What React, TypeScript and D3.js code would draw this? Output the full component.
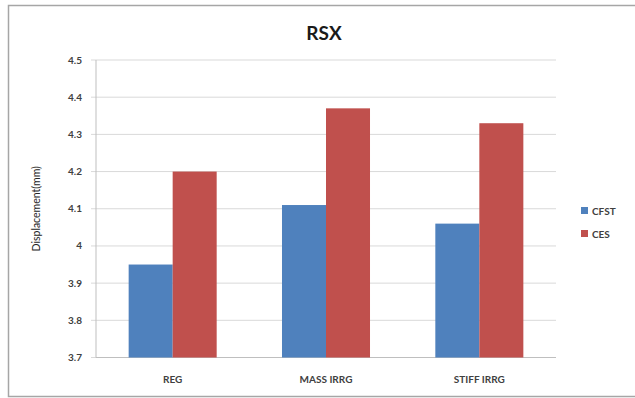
import React from "react";
import * as d3 from "d3";

const categories = ["REG", "MASS IRRG", "STIFF IRRG"];
const seriesNames = ["CFST", "CES"];
const cfstValues = [3.95, 4.11, 4.06];
const cesValues = [4.2, 4.37, 4.33];
const yTicks = [3.7, 3.8, 3.9, 4.0, 4.1, 4.2, 4.3, 4.4, 4.5];
const colors = ["#4F81BD", "#C0504D"];

export default function App() {
  const W = 635, H = 398;
  const left = 96, right = 556, top = 60, bottom = 357.5;
  const x = d3.scaleBand<string>().domain(categories).range([left, right]).paddingInner(0).paddingOuter(0);
  const inner = d3.scaleBand<string>().domain(seriesNames).range([0, x.bandwidth()]).paddingInner(0).paddingOuter(0.742);
  const y = d3.scaleLinear().domain([3.7, 4.5]).range([bottom, top]);
  const series = [cfstValues, cesValues];
  const font = "Lato, 'Open Sans', sans-serif";
  return (
    <svg width={W} height={H} style={{ position: "absolute", left: 0, top: 0 }} fontFamily={font}>
      <rect x={0} y={0} width={W} height={H} fill="#fff" />
      <rect x={8.5} y={5.5} width={640} height={391} fill="none" stroke="#a6a6a6" strokeWidth={1.5} />
      <text x={324} y={40} textAnchor="middle" fontSize={19} fontWeight="bold" fill="#1a1a1a">RSX</text>
      {yTicks.map((t) => (
        <g key={t}>
          <line x1={left - 5} x2={right} y1={y(t)} y2={y(t)} stroke="#d9d9d9" strokeWidth={1} />
          <text x={82} y={y(t)} dy="0.35em" textAnchor="end" fontSize={10} fontWeight="bold" fill="#404040">
            {d3.format("")(Number(t.toFixed(1)))}
          </text>
        </g>
      ))}
      <line x1={left} x2={left} y1={top} y2={bottom} stroke="#bfbfbf" strokeWidth={1} />
      <line x1={left} x2={right} y1={bottom} y2={bottom} stroke="#bfbfbf" strokeWidth={1} />
      {categories.map((c, i) => (
        <g key={c}>
          {series.map((vals, s) => (
            <rect
              key={s}
              x={(x(c) as number) + (inner(seriesNames[s]) as number)}
              y={y(vals[i])}
              width={inner.bandwidth()}
              height={bottom - y(vals[i])}
              fill={colors[s]}
            />
          ))}
          <text x={(x(c) as number) + x.bandwidth() / 2} y={383} textAnchor="middle" fontSize={10} fontWeight="bold" fill="#404040">
            {c}
          </text>
        </g>
      ))}
      <text transform={`translate(40,${(top + bottom) / 2}) rotate(-90)`} textAnchor="middle" fontSize={10.5} fill="#262626">
        Displacement(mm)
      </text>
      {seriesNames.map((n, i) => (
        <g key={n} transform={`translate(581,${211 + i * 23})`}>
          <rect x={0} y={-4} width={7} height={7} fill={colors[i]} />
          <text x={11} y={0} dy="0.35em" fontSize={10} fontWeight="bold" fill="#404040">{n}</text>
        </g>
      ))}
    </svg>
  );
}
